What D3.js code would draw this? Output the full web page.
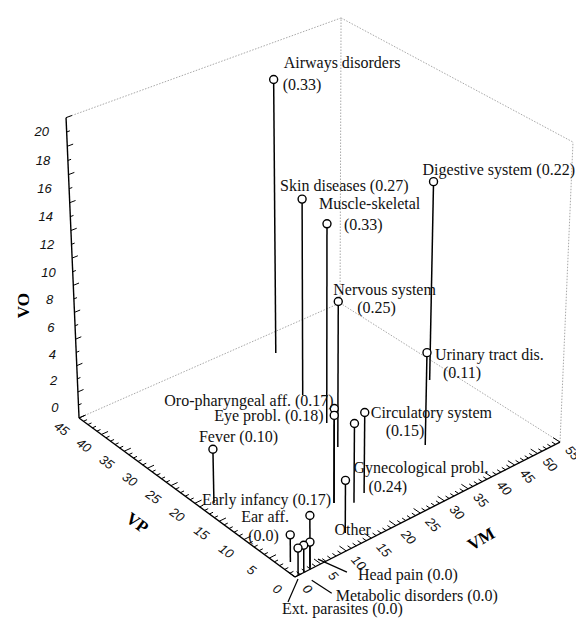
<!DOCTYPE html>
<html>
<head>
<meta charset="utf-8">
<script src="https://cdn.jsdelivr.net/npm/d3@7"></script>
<style>
  body { margin: 0; background: #fff; }
  text { white-space: pre; }
</style>
</head>
<body>
<svg id="chart" width="576" height="622"></svg>
<script>
// ---- data ----
const categories = ["Airways disorders", "Skin diseases", "Muscle-skeletal", "Nervous system",
  "Digestive system", "Urinary tract dis.", "Oro-pharyngeal aff.", "Eye probl.",
  "Circulatory system", "Gynecological probl.", "Other", "Fever", "Early infancy",
  "Ear aff.", "Head pain", "Metabolic disorders", "Ext. parasites"];
const scores = ["0.33", "0.27", "0.33", "0.25", "0.22", "0.11", "0.17", "0.18",
  "0.15", "0.24", null, "0.10", "0.17", "0.0", "0.0", "0.0", "0.0"];
const vm = [36.5, 31.9, 29.7, 26.7, 50.9, 37.8, 16.5, 16.5, 21.8, 12.8, 18.9, 2.3, 3.2, 1.8, 2.9, 1.7, 0.6];
const vp = [40.7, 30.3, 23.1, 17.9, 22.1, 10.9, 8.7, 8.7, 7.9, 2.9, 7.1, 18.5, 0.3, 2.7, 0, 0, 0];
const vo = [18.7, 12.8, 12.9, 8.9, 13.1, 5.0, 5.0, 4.5, 4.0, 1.9, 3.9, 2.0, 1.8, 0, 0, 0, 0];

const vmTicks = [0, 5, 10, 15, 20, 25, 30, 35, 40, 45, 50, 55];
const vpTicks = [0, 5, 10, 15, 20, 25, 30, 35, 40, 45];
const voTicks = [0, 2, 4, 6, 8, 10, 12, 14, 16, 18, 20];

// ---- label placement (pixels from the point): first line, second line ----
const labelPos = [
  [[10, -12], [9, 10]],
  [[-22, -8], null],
  [[-8, -15], [17, 6]],
  [[-5, -6], [19, 12]],
  [[-11, -7], null],
  [[8, 7], [16, 25]],
  [[-170, -3], null],
  [[-120, 6], null],
  [[6, 5], [21, 23]],
  [[8, -7], [23, 12]],
  [[-20, 112], null],
  [[-14, -7], null],
  [[-108, -10], null],
  [[-49, -13], [-42, 6]],
  [[48, 38], null],
  [[32, 56], null],
  [[-16, 66], null]
];
// leader lines for the labels moved away from their points
const leaders = {14: [[8, 17], [37, 30]], 15: [[8, 35], [28, 48]], 16: [[0, 31], [-10, 54]]};

// ---- 3D scales + camera ----
const sx = d3.scaleLinear().domain([0, 55]).range([0, 1]);
const sy = d3.scaleLinear().domain([0, 45]).range([0, 1]);
const sz = d3.scaleLinear().domain([-2, 20]).range([0, 1]);

// perspective camera (rows: screen x, screen y, depth)
const cam = {
  x: [295, 308.3, -209.6, -17.7],
  y: [577, -100.8, -125.4, -331],
  d: [1, 0.0773, 0.0805, -0.0553]
};
function proj(a, b, c) {
  const u = sx(a), v = sy(b), w = sz(c);
  const r = k => cam[k][0] + cam[k][1] * u + cam[k][2] * v + cam[k][3] * w;
  const D = r("d");
  return [r("x") / D, r("y") / D];
}

const svg = d3.select("#chart");
const g = svg.append("g");

const [x0, x1] = sx.domain(), [y0, y1] = sy.domain(), [z0, z1] = sz.domain();

function seg(p, q) {
  return g.append("line")
    .attr("x1", p[0]).attr("y1", p[1])
    .attr("x2", q[0]).attr("y2", q[1]);
}

// back edges of the box (dotted)
const back = [
  [[x0, y1, z0], [x1, y1, z0]],
  [[x1, y1, z0], [x1, y0, z0]],
  [[x1, y1, z0], [x1, y1, z1]],
  [[x0, y1, z1], [x1, y1, z1]],
  [[x1, y1, z1], [x1, y0, z1]],
  [[x1, y0, z0], [x1, y0, z1]]
];
back.forEach(e => seg(proj(...e[0]), proj(...e[1]))
  .attr("stroke", "#a8a8a8").attr("stroke-width", 1).attr("stroke-dasharray", "1.5,1.5"));

// axes
const axisStyle = s => s.attr("stroke", "#000").attr("stroke-width", 1.4);
axisStyle(seg(proj(x0, y1, z0), proj(x0, y1, z1)));
axisStyle(seg(proj(x0, y0, z0), proj(x0, y1, z0)));
axisStyle(seg(proj(x0, y0, z0), proj(x1, y0, z0)));

// ticks
const tickStyle = s => s.attr("stroke", "#000").attr("stroke-width", 1);
d3.range(z0, z1 + 0.01, 1).forEach(z =>
  tickStyle(seg(proj(x0, y1, z), proj(z % 2 === 0 ? 1.1 : 0.6, y1, z))));
d3.range(y0, y1 + 0.01, 1).forEach(y =>
  tickStyle(seg(proj(x0, y, z0), proj(y % 5 === 0 ? 1.3 : 0.7, y, z0))));
d3.range(x0, x1 + 0.01, 1).forEach(x =>
  tickStyle(seg(proj(x, y0, z0), proj(x, x % 5 === 0 ? 1.3 : 0.7, z0))));

// tick labels
const tickFont = s => s.attr("font-family", "Liberation Sans, Arial, sans-serif")
  .attr("font-style", "italic").attr("font-size", 13).attr("fill", "#111")
  .attr("text-anchor", "middle").attr("dy", "0.35em");

voTicks.forEach(t => {
  const p = proj(-4.5, y1, t);
  tickFont(g.append("text")).attr("x", p[0]).attr("y", p[1] + 5).text(t);
});
vpTicks.forEach(t => {
  const p = proj(-3.4, t, z0);
  tickFont(g.append("text"))
    .attr("transform", `translate(${p[0]},${p[1] + 3}) rotate(36)`).text(t);
});
vmTicks.forEach(t => {
  const p = proj(t, -2.6, z0);
  tickFont(g.append("text"))
    .attr("transform", `translate(${p[0] - 1},${p[1] + 2}) rotate(48)`).text(t);
});

// axis titles
const titleFont = s => s.attr("font-family", "Liberation Serif, Times New Roman, serif")
  .attr("font-weight", "bold").attr("font-size", 17).attr("fill", "#000")
  .attr("text-anchor", "middle").attr("dy", "0.35em");
{
  const p = proj(-9.5, y1, 8);
  titleFont(g.append("text")).attr("transform", `translate(${p[0]},${p[1]}) rotate(-90)`).text("VO");
  const q = proj(-11, 20, z0);
  titleFont(g.append("text")).attr("transform", `translate(${q[0]},${q[1] - 8}) rotate(36)`).text("VP");
  const r = proj(26.7, -11.5, z0);
  titleFont(g.append("text")).attr("transform", `translate(${r[0] - 9},${r[1] - 12}) rotate(-30)`).text("VM");
}

// drop lines
const idx = d3.range(categories.length);
g.selectAll("line.drop")
  .data(idx)
  .enter().append("line")
    .attr("class", "drop")
    .attr("x1", i => proj(vm[i], vp[i], z0)[0])
    .attr("y1", i => proj(vm[i], vp[i], z0)[1])
    .attr("x2", i => proj(vm[i], vp[i], vo[i])[0])
    .attr("y2", i => proj(vm[i], vp[i], vo[i])[1])
    .attr("stroke", "#000")
    .attr("stroke-width", 1.5);

// points
g.selectAll("circle.pt")
  .data(idx)
  .enter().append("circle")
    .attr("class", "pt")
    .attr("cx", i => proj(vm[i], vp[i], vo[i])[0])
    .attr("cy", i => proj(vm[i], vp[i], vo[i])[1])
    .attr("r", 4)
    .attr("fill", "#fff")
    .attr("stroke", "#000")
    .attr("stroke-width", 1.4);

// labels
const labelFont = s => s.attr("font-family", "Liberation Serif, Times New Roman, serif")
  .attr("font-size", 16).attr("fill", "#111");
idx.forEach(i => {
  const p = proj(vm[i], vp[i], vo[i]);
  const [l1, l2] = labelPos[i];
  const score = scores[i] === null ? "" : `(${scores[i]})`;
  if (l2) {
    labelFont(g.append("text")).attr("x", p[0] + l1[0]).attr("y", p[1] + l1[1]).text(categories[i]);
    labelFont(g.append("text")).attr("x", p[0] + l2[0]).attr("y", p[1] + l2[1]).text(score);
  } else {
    labelFont(g.append("text")).attr("x", p[0] + l1[0]).attr("y", p[1] + l1[1])
      .text(score ? `${categories[i]} ${score}` : categories[i]);
  }
  if (leaders[i]) {
    const [a, b] = leaders[i];
    seg([p[0] + a[0], p[1] + a[1]], [p[0] + b[0], p[1] + b[1]])
      .attr("stroke", "#000").attr("stroke-width", 1.2);
  }
});
</script>
</body>
</html>
